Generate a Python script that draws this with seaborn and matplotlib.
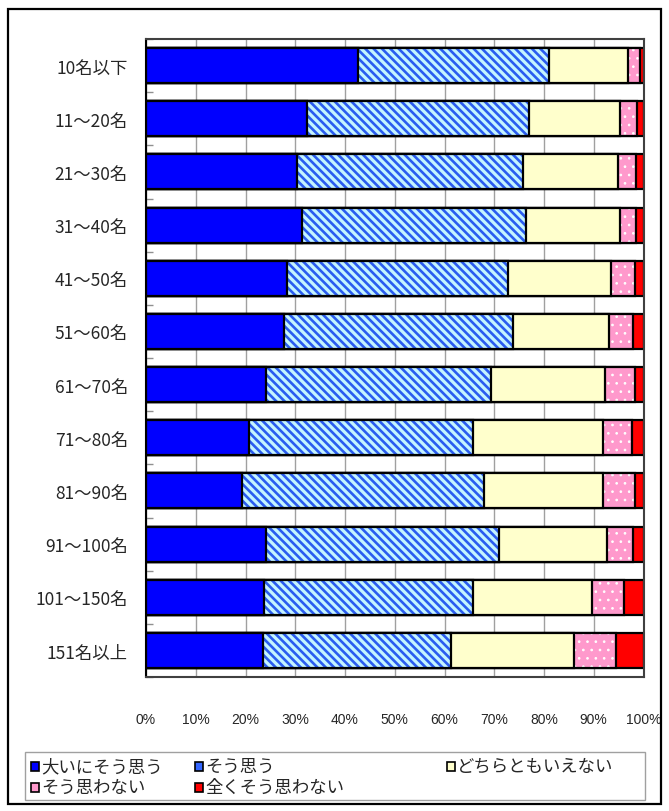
"""Stacked 100% horizontal bar chart by group size (seaborn)."""

import matplotlib

matplotlib.use("Agg")
import matplotlib.pyplot as plt
import numpy as np
import pandas as pd
import seaborn as sns
from matplotlib import font_manager
from matplotlib.patches import Rectangle

groups = [
    "10名以下", "11～20名", "21～30名", "31～40名", "41～50名", "51～60名",
    "61～70名", "71～80名", "81～90名", "91～100名", "101～150名", "151名以上",
]
series_names = ["大いにそう思う", "そう思う", "どちらともいえない", "そう思わない", "全くそう思わない"]

strongly_agree = [42.6, 32.4, 30.4, 31.4, 28.4, 27.8, 24.2, 20.8, 19.2, 24.1, 23.7, 23.6]
agree = [38.5, 44.5, 45.3, 45.0, 44.4, 45.9, 45.1, 45.0, 48.8, 46.9, 42.0, 37.8]
neutral = [15.7, 18.4, 19.2, 18.8, 20.6, 19.3, 22.9, 26.0, 23.8, 21.6, 23.9, 24.6]
disagree = [2.4, 3.4, 3.6, 3.3, 4.8, 4.9, 6.1, 5.9, 6.5, 5.2, 6.5, 8.5]
strongly_disagree = [0.8, 1.3, 1.5, 1.5, 1.8, 2.1, 1.7, 2.3, 1.7, 2.2, 3.9, 5.5]

face_colors = ["#0000FF", "#C4F4FF", "#FFFFCC", "#FF99CC", "#FF0000"]
hatch_colors = [None, "#2A5CF0", None, "#FFFFFF", None]
hatches = [None, "\\\\\\\\", None, "..", None]
hatch_widths = [1.0, 1.9, 1.0, 0.7, 1.0]

sns.set_theme(style="white")
plt.rcParams["font.family"] = ["Noto Sans CJK JP", "DejaVu Sans"]

df = pd.DataFrame(
    {
        "group": groups,
        series_names[0]: strongly_agree,
        series_names[1]: agree,
        series_names[2]: neutral,
        series_names[3]: disagree,
        series_names[4]: strongly_disagree,
    }
)
total = df[series_names].sum(axis=1)
for name in series_names:
    df[name] = df[name] / total * 100
cum = df[series_names].cumsum(axis=1)

fig = plt.figure(figsize=(6.69, 8.12), dpi=100)
W, H = 669, 812
ax = fig.add_axes([146 / W, 1 - 678 / H, (643.5 - 146) / W, (678 - 40) / H])

# draw from the longest cumulative bar to the shortest so each layer sits on top
for i in reversed(range(len(series_names))):
    plt.rcParams["hatch.linewidth"] = hatch_widths[i]
    n0 = len(ax.patches)
    sns.barplot(
        x=cum[series_names[i]], y=df["group"], orient="h", ax=ax,
        color=face_colors[i], width=0.66, saturation=1,
        edgecolor=hatch_colors[i] or face_colors[i], linewidth=0,
    )
    if hatches[i]:
        for p in ax.patches[n0:]:
            p.set_hatch(hatches[i])
    sns.barplot(
        x=cum[series_names[i]], y=df["group"], orient="h", ax=ax,
        fill=False, color="black", width=0.66, linewidth=1.6,
    )

ax.set_xlim(0, 100)
ax.set_ylim(11.5, -0.5)
ax.set_xlabel("")
ax.set_ylabel("")
ax.set_xticks(np.arange(0, 101, 10))
ax.set_xticklabels([f"{v}%" for v in range(0, 101, 10)], fontsize=10, family=["Liberation Sans", "DejaVu Sans"])
ax.tick_params(axis="x", length=0, pad=25)
ax.tick_params(axis="y", which="major", length=0, pad=13, labelsize=12.5)
ax.set_yticks(np.arange(-0.5, 12, 1), minor=True)
ax.tick_params(axis="y", which="minor", left=True, direction="in", length=5, color="#909090", width=1)
ax.grid(axis="x", color="#A0A0A0", linewidth=1)
ax.grid(axis="y", visible=False)
ax.set_axisbelow(True)
for side, sp in ax.spines.items():
    sp.set_visible(True)
    sp.set_color("#404040")
    sp.set_linewidth(1.5)
ax.spines["left"].set_color("black")

# outer chart frame
fig.patches.append(Rectangle((8 / W, 1 - 805 / H), 653 / W, 795 / H, transform=fig.transFigure,
                             fill=False, edgecolor="black", linewidth=1.6))

# legend laid out row-wise like the original
fig.patches.append(Rectangle((25 / W, 1 - 801 / H), 620 / W, 48 / H, transform=fig.transFigure,
                             fill=False, edgecolor="#A0A0A0", linewidth=1))
legend_pos = [(31, 767), (195, 767), (447, 767), (31, 788), (195, 788)]
for i, (lx, ly) in enumerate(legend_pos):
    fig.patches.append(Rectangle((lx / W, 1 - (ly + 4.5) / H), 8 / W, 9 / H, transform=fig.transFigure,
                                 facecolor=face_colors[i] if i != 1 else "#3366FF",
                                 edgecolor="black", linewidth=1.2))
    fig.text((lx + 10) / W, 1 - ly / H, series_names[i], fontsize=12.5, va="center", ha="left")

fig.savefig("out.png", dpi=100)
plt.close(fig)
